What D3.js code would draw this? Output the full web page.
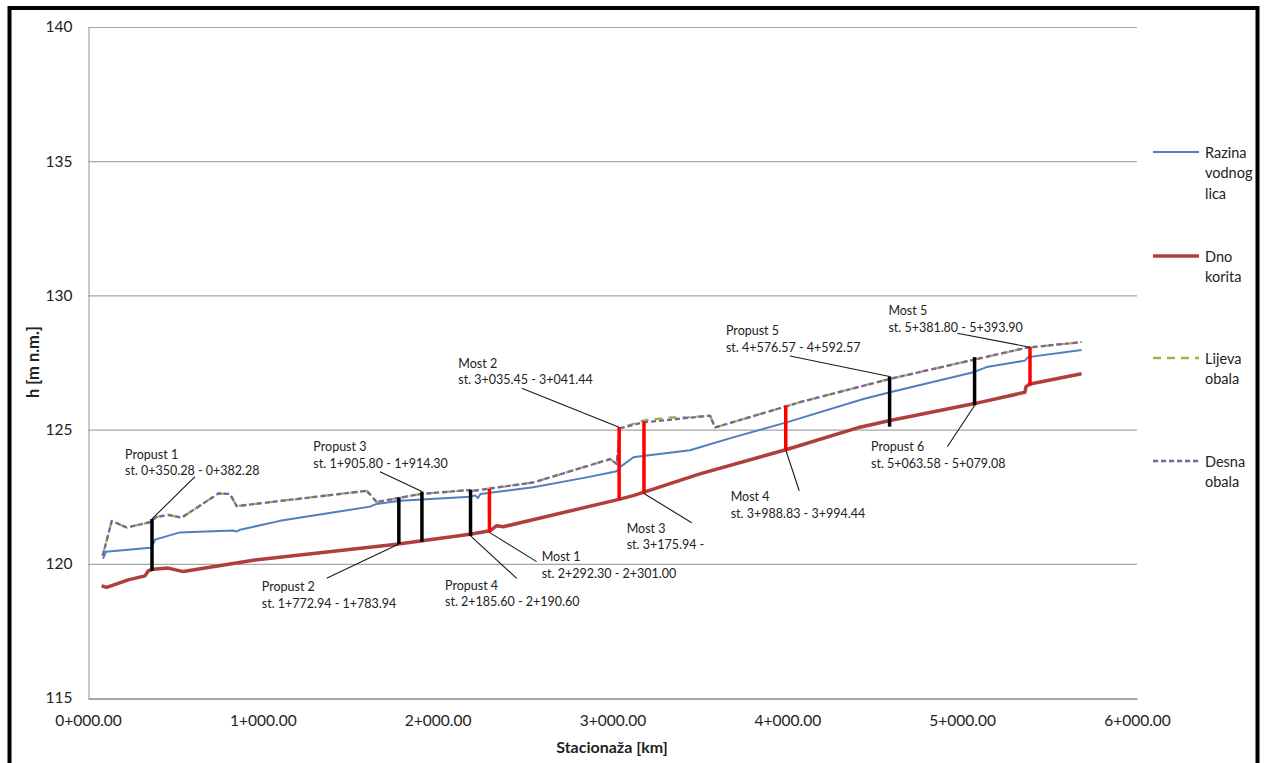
<!DOCTYPE html>
<html>
<head>
<meta charset="utf-8">
<script src="https://cdn.jsdelivr.net/npm/d3@7"></script>
<style>
  html, body { margin: 0; padding: 0; background: #fff; }
  svg { display: block; font-family: Lato, "Open Sans", sans-serif; }
</style>
</head>
<body>
<svg id="chart" width="1266" height="763"></svg>
<script>
// ---------- DATA ----------
const xTicks = [0, 1000, 2000, 3000, 4000, 5000, 6000];
const xTickLabels = ["0+000.00", "1+000.00", "2+000.00", "3+000.00", "4+000.00", "5+000.00", "6+000.00"];
const yTicks = [115, 120, 125, 130, 135, 140];
const yTickLabels = ["115", "120", "125", "130", "135", "140"];

const seriesNames = ["Razina vodnog lica", "Dno korita", "Lijeva obala", "Desna obala"];

// Razina vodnog lica [stacionaža m, h m n.m.]
const waterLevel = [
  [86,120.19],[103,120.45],[355,120.6],[365,120.62],[383,120.9],[526,121.17],[831,121.24],[850,121.2],
  [870,121.27],[1098,121.6],[1613,122.13],[1651,122.23],[1785,122.35],[2185,122.5],[2215,122.55],
  [2230,122.45],[2245,122.6],[2547,122.85],[2852,123.22],[3024,123.45],[3043,123.6],[3120,123.97],
  [3138,123.99],[3443,124.23],[3500,124.34],[3690,124.71],[3996,125.27],[4435,126.14],[4587,126.39],
  [5064,127.14],[5140,127.33],[5359,127.57],[5377,127.7],[5683,127.97]
];
// Dno korita
const channelBed = [
  [78,119.18],[107,119.12],[230,119.4],[326,119.55],[345,119.74],[374,119.8],[459,119.84],[545,119.71],
  [955,120.14],[1765,120.73],[2185,121.1],[2299,121.23],[2338,121.42],[2375,121.38],[3043,122.41],
  [3118,122.54],[3176,122.66],[3500,123.35],[3996,124.26],[4415,125.09],[4587,125.34],[5064,125.96],
  [5359,126.39],[5365,126.6],[5388,126.7],[5683,127.08]
];
// Lijeva obala
const leftBank = [
  [84,120.3],[136,121.6],[221,121.35],[355,121.55],[393,121.75],[459,121.82],[536,121.72],[746,122.62],
  [812,122.6],[850,122.15],[1594,122.72],[1651,122.3],[1899,122.6],[2185,122.75],[2204,122.72],
  [2547,123.03],[2986,123.9],[3024,123.72],[3043,125.05],[3176,125.34],[3330,125.45],[3420,125.45],
  [3558,125.52],[3586,125.08],[4072,126.02],[4587,126.89],[5064,127.6],[5369,128.05],[5683,128.26]
];
// Desna obala
const rightBank = [
  [84,120.3],[136,121.6],[221,121.35],[355,121.55],[393,121.75],[459,121.82],[536,121.72],[746,122.62],
  [812,122.6],[850,122.15],[1594,122.72],[1651,122.3],[1899,122.6],[2185,122.75],[2204,122.72],
  [2547,123.03],[2986,123.9],[3024,123.72],[3043,125.05],[3176,125.27],[3348,125.38],[3558,125.52],
  [3586,125.08],[4072,126.02],[4587,126.89],[5064,127.6],[5369,128.05],[5683,128.26]
];

// Objekti (propusti i mostovi)
const structNames    = ["Propust 1","Propust 2","Propust 3","Propust 4","Most 1","Most 2","Most 3","Most 4","Propust 5","Propust 6","Most 5"];
const structStations = ["st. 0+350.28 - 0+382.28","st. 1+772.94 - 1+783.94","st. 1+905.80 - 1+914.30","st. 2+185.60 - 2+190.60",
                        "st. 2+292.30 - 2+301.00","st. 3+035.45 - 3+041.44","st. 3+175.94 -","st. 3+988.83 - 3+994.44",
                        "st. 4+576.57 - 4+592.57","st. 5+063.58 - 5+079.08","st. 5+381.80 - 5+393.90"];
const structTypes    = ["propust","propust","propust","propust","most","most","most","most","propust","propust","most"];
const structX        = [366, 1778, 1910, 2188, 2296, 3038, 3180, 3991, 4585, 5071, 5388];
const structTop      = [121.67, 122.47, 122.69, 122.75, 122.79, 125.09, 125.31, 125.90, 126.98, 127.70, 128.07];
const structBottom   = [119.74, 120.74, 120.82, 121.04, 121.17, 122.38, 122.62, 124.24, 125.11, 125.90, 126.64];
// label anchors (stacionaža, h) and leader start points
const labelX   = [212, 994, 1289, 2042, 2595, 2118, 3081, 3676, 3649, 4479, 4578];
const labelY   = [124.09, 119.15, 124.36, 119.21, 120.26, 127.47, 121.32, 122.50, 128.68, 124.36, 129.43];
const leaderX  = [612, 1365, 1670, 2452, 2566, 2481, 3453, 4068, 4015, 4915, 4972];
const leaderY  = [123.25, 119.46, 123.43, 119.46, 120.08, 126.54, 121.53, 122.72, 127.74, 124.36, 128.59];
const leaderTo = ["top","bottom","top","bottom","bottom","top","bottom","bottom","top","bottom","top"];

// ---------- LAYOUT ----------
const svg = d3.select("#chart");
const plot = { left: 88, right: 1137, top: 27, bottom: 698 };

const x = d3.scaleLinear().domain([0, 6000]).range([plot.left, plot.right]);
const y = d3.scaleLinear().domain([115, 140]).range([plot.bottom, plot.top]);

// outer frame
svg.append("rect").attr("x", 9.5).attr("y", 8).attr("width", 1248).attr("height", 820)
  .attr("fill", "none").attr("stroke", "#000").attr("stroke-width", 4);

// gridlines
svg.append("g").selectAll("line").data(yTicks.filter(v => v > 115)).join("line")
  .attr("x1", plot.left).attr("x2", plot.right)
  .attr("y1", d => y(d) + 0.5).attr("y2", d => y(d) + 0.5)
  .attr("stroke", "#a6a6a6").attr("stroke-width", 1.2);

// axes
const yAxis = d3.axisLeft(y).tickValues(yTicks).tickFormat((d, i) => yTickLabels[i]).tickSize(0).tickPadding(16);
const gy = svg.append("g").attr("transform", `translate(${plot.left + 0.5},0)`).call(yAxis);
gy.select(".domain").attr("stroke", "#a6a6a6").attr("stroke-width", 1.2);
gy.selectAll("text").attr("font-size", 15.5).attr("fill", "#222").attr("font-family", "Lato");

const xAxis = d3.axisBottom(x).tickValues(xTicks).tickFormat((d, i) => xTickLabels[i]).tickSize(0).tickPadding(16);
const gx = svg.append("g").attr("transform", `translate(0,${plot.bottom + 0.5})`).call(xAxis);
gx.select(".domain").attr("stroke", "#a6a6a6").attr("stroke-width", 1.8);
gx.selectAll("text").attr("font-size", 15.5).attr("fill", "#222").attr("font-family", "Lato");

// axis titles
svg.append("text").attr("x", 612).attr("y", 753).attr("text-anchor", "middle")
  .attr("font-size", 16).attr("font-weight", "bold").attr("fill", "#222").text("Stacionaža [km]");
svg.append("text").attr("transform", "translate(39,362) rotate(-90)").attr("text-anchor", "middle")
  .attr("font-size", 16.5).attr("font-weight", "bold").attr("fill", "#222").text("h [m n.m.]");

// series
const line = d3.line().x(d => x(d[0])).y(d => y(d[1]));
const styles = [
  { data: waterLevel, color: "#4f7fbd", width: 2, dash: null },
  { data: channelBed, color: "#ad403d", width: 3.5, dash: null },
  { data: leftBank, color: "#94b54f", width: 2.3, dash: "8,6" },
  { data: rightBank, color: "#7e62a0", width: 2.3, dash: "5,3" }
];
// draw order: bed, water, left bank, right bank
[1, 0, 2, 3].forEach(i => {
  const s = styles[i];
  svg.append("path").datum(s.data).attr("d", line).attr("fill", "none")
    .attr("stroke", s.color).attr("stroke-width", s.width)
    .attr("stroke-dasharray", s.dash).attr("stroke-linejoin", "round");
});

// structures
const idx = d3.range(structNames.length);
svg.append("g").selectAll("line").data(idx).join("line")
  .attr("x1", i => x(structX[i])).attr("x2", i => x(structX[i]))
  .attr("y1", i => y(structTop[i])).attr("y2", i => y(structBottom[i]))
  .attr("stroke", i => structTypes[i] === "most" ? "#ff0000" : "#000")
  .attr("stroke-width", 3.5);

// leader lines
svg.append("g").selectAll("line").data(idx).join("line")
  .attr("x1", i => x(leaderX[i])).attr("y1", i => y(leaderY[i]))
  .attr("x2", i => x(structX[i]))
  .attr("y2", i => y(leaderTo[i] === "top" ? structTop[i] : structBottom[i]))
  .attr("stroke", "#1a1a1a").attr("stroke-width", 1.1);

// labels
const lab = svg.append("g").attr("font-size", 12.5).attr("fill", "#222");
idx.forEach(i => {
  const t = lab.append("text").attr("x", x(labelX[i])).attr("y", y(labelY[i]) + 4.5);
  t.append("tspan").attr("x", x(labelX[i])).text(structNames[i]);
  t.append("tspan").attr("x", x(labelX[i])).attr("dy", 16.6).text(structStations[i]);
});

// legend
const legY = [152, 256, 358, 461];
const legLines = [["Razina", "vodnog", "lica"], ["Dno", "korita"], ["Lijeva", "obala"], ["Desna", "obala"]];
const leg = svg.append("g");
[0, 1, 2, 3].forEach(i => {
  const s = styles[i];
  leg.append("line").attr("x1", 1153).attr("x2", 1199).attr("y1", legY[i]).attr("y2", legY[i])
    .attr("stroke", s.color).attr("stroke-width", s.width).attr("stroke-dasharray", s.dash);
  const t = leg.append("text").attr("x", 1205).attr("y", legY[i] + 5.5).attr("font-size", 14.5).attr("fill", "#222");
  legLines[i].forEach((w, k) => t.append("tspan").attr("x", 1205).attr("dy", k === 0 ? 0 : 20.6).text(w));
});
</script>
</body>
</html>
